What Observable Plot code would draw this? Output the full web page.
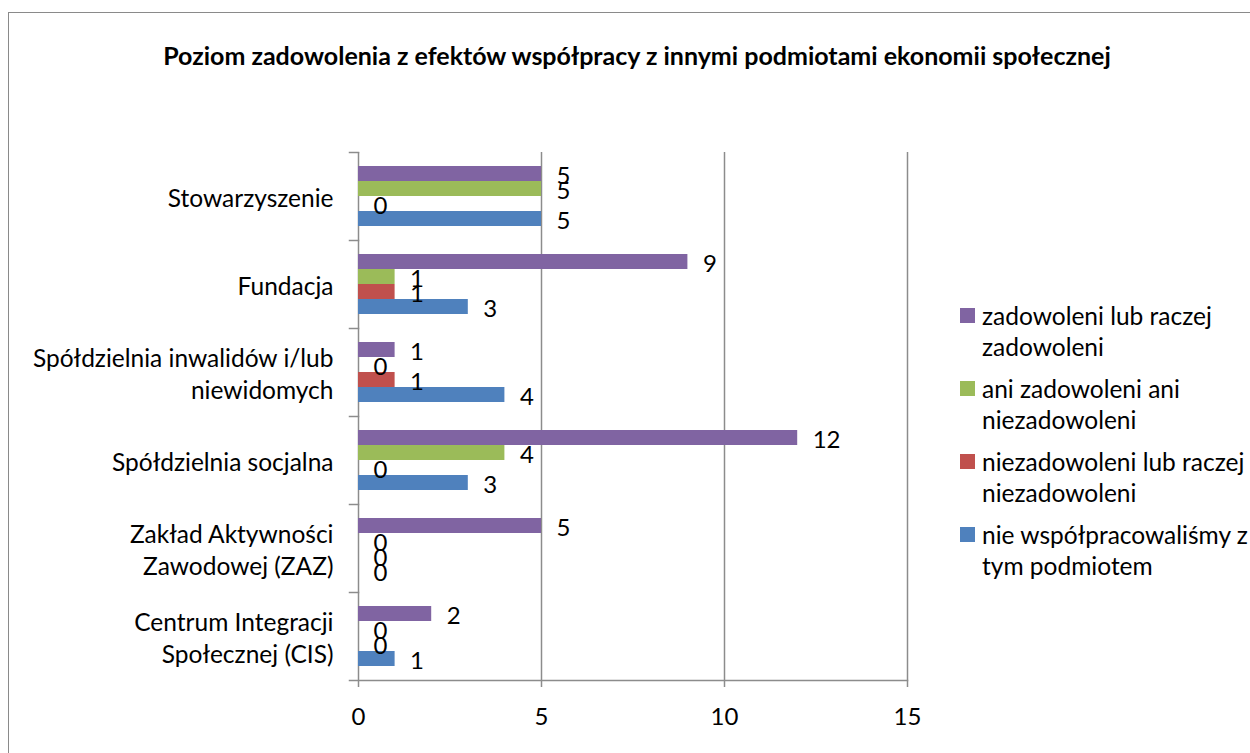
<!DOCTYPE html>
<html><head><meta charset="utf-8">
<script src="https://cdn.jsdelivr.net/npm/d3@7"></script>
<script src="https://cdn.jsdelivr.net/npm/@observablehq/plot@0.6"></script>
<style>
html,body{margin:0;padding:0;width:1250px;height:753px;overflow:hidden;background:#fff;font-family:Lato,sans-serif;color:#000;}
#border{position:absolute;left:8px;top:12px;width:1400px;height:900px;border:1.5px solid #8a8a8a;}
#title{position:absolute;left:12px;top:42px;width:1250px;text-align:center;font-weight:bold;font-size:25px;line-height:26px;}
#chart{position:absolute;left:0;top:100px;}
#legend{position:absolute;left:960px;top:300px;}
.item{position:relative;padding-left:22px;font-size:24.5px;line-height:31px;white-space:pre-line;margin-bottom:11px;}
.sw{position:absolute;left:0;top:8px;width:15px;height:15px;}
</style></head><body>
<div id="border"></div>
<div id="title"></div>
<div id="chart"></div>
<div id="legend"></div>
<script>
const title = "Poziom zadowolenia z efektów współpracy z innymi podmiotami ekonomii społecznej";
const categories = ["Stowarzyszenie", "Fundacja", "Spółdzielnia inwalidów i/lub niewidomych", "Spółdzielnia socjalna", "Zakład Aktywności Zawodowej (ZAZ)", "Centrum Integracji Społecznej (CIS)"];
const categoryLabels = ["Stowarzyszenie", "Fundacja", "Spółdzielnia inwalidów i/lub\nniewidomych", "Spółdzielnia socjalna", "Zakład Aktywności\nZawodowej (ZAZ)", "Centrum Integracji\nSpołecznej (CIS)"];
const series = ["zadowoleni lub raczej zadowoleni", "ani zadowoleni ani niezadowoleni", "niezadowoleni lub raczej niezadowoleni", "nie współpracowaliśmy z tym podmiotem"];
const legendLabels = ["zadowoleni lub raczej\nzadowoleni", "ani zadowoleni ani\nniezadowoleni", "niezadowoleni lub raczej\nniezadowoleni", "nie współpracowaliśmy z\ntym podmiotem"];
const zadowoleni = [5, 9, 1, 12, 5, 2];
const aniZadowoleni = [5, 1, 0, 4, 0, 0];
const niezadowoleni = [0, 1, 1, 0, 0, 0];
const nieWspolpracowalismy = [5, 3, 4, 3, 0, 1];
const xTicks = [0, 5, 10, 15];
const colors = ["#8064A2", "#9BBB59", "#C0504D", "#4F81BD"];
const gridColor = "#8c8c8c";

const seriesValues = [zadowoleni, aniZadowoleni, niezadowoleni, nieWspolpracowalismy];
const rows = categories.flatMap((c, i) => series.map((s, j) => ({category: c, series: s, value: seriesValues[j][i]})));

document.getElementById("title").textContent = title;

const W = 1250, H = 640, mL = 358, mR = 343, mT = 51, mB = 60;
const plotW = W - mL - mR;

const chart = Plot.plot({
  width: W, height: H,
  marginLeft: mL, marginRight: mR, marginTop: mT, marginBottom: mB,
  style: {fontFamily: "Lato, sans-serif", fontSize: "24px", background: "transparent", color: "black", overflow: "visible"},
  x: {domain: [0, 15]},
  y: {domain: series, paddingInner: 0, paddingOuter: 0.8, axis: null},
  fy: {domain: categories, padding: 0},
  color: {domain: series, range: colors},
  marks: [
    Plot.ruleX(xTicks, {stroke: gridColor, strokeWidth: 1.5}),
    Plot.frame({anchor: "top", insetLeft: -9, insetRight: plotW, stroke: gridColor, strokeWidth: 1.5}),
    Plot.frame({anchor: "bottom", facetAnchor: "bottom", insetLeft: -9, stroke: gridColor, strokeWidth: 1.5}),
    Plot.barX(rows, {fy: "category", y: "series", x: "value", fill: "series"}),
    Plot.text(rows, {fy: "category", y: "series", x: "value", text: d => String(d.value), textAnchor: "start", dx: 15, dy: 2, fill: "black", fontSize: 24}),
    Plot.axisX({ticks: xTicks, tickSize: 7, tickPadding: 20, stroke: gridColor, strokeWidth: 1.5, fill: "black", label: null, fontSize: 24}),
    Plot.axisFy({anchor: "left", tickSize: 0, tickPadding: 25, tickFormat: c => categoryLabels[categories.indexOf(c)], label: null, lineHeight: 1.33, fontSize: 24.5, fill: "black"})
  ]
});
document.getElementById("chart").appendChild(chart);

const legend = document.getElementById("legend");
series.forEach((s, i) => {
  const item = document.createElement("div");
  item.className = "item";
  const sw = document.createElement("span");
  sw.className = "sw";
  sw.style.background = colors[i];
  item.appendChild(sw);
  item.appendChild(document.createTextNode(legendLabels[i]));
  legend.appendChild(item);
});
</script>
</body></html>
